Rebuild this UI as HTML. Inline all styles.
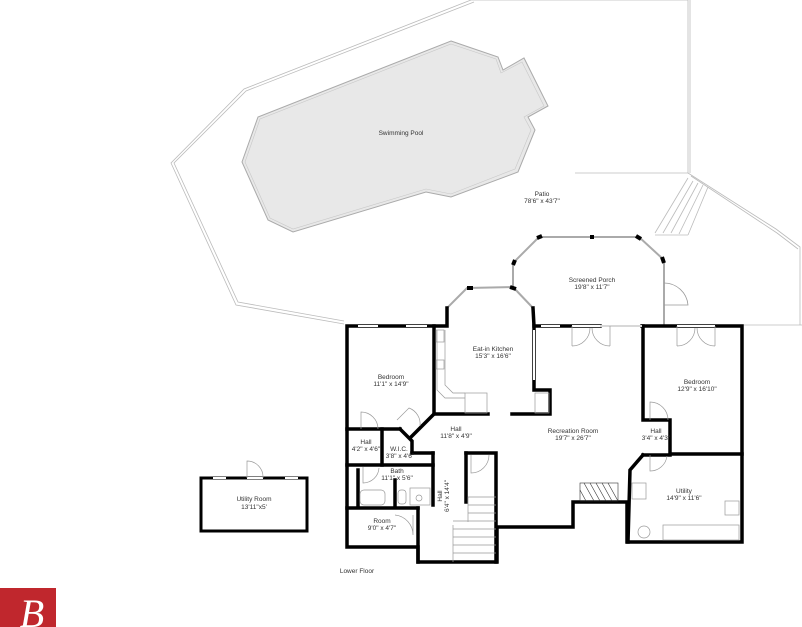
<!DOCTYPE html>
<html><head><style>
html,body{margin:0;padding:0;background:#fff;width:802px;height:627px;overflow:hidden}
svg{display:block}
text{font-family:"Liberation Sans",sans-serif;font-size:6.5px;fill:#333;text-anchor:middle}
</style></head><body>
<svg width="802" height="627" viewBox="0 0 802 627">
<g fill="none" stroke="#bbb" stroke-width="0.8">
<polyline points="471,0 244,89 171,163 236,305 344,324"/>
<polyline points="474,2 246,91 174,163 238,302 344,321"/>
<polyline points="471,0 688,0 688,173"/>
<polyline points="690,0 690,173"/>
<line x1="575" y1="173" x2="688" y2="173"/>
<polyline points="688,173 776,229 800,247 800,325"/>
<polyline points="691,176 777,233 798,249"/>
<line x1="742" y1="325" x2="802" y2="325"/>
<line x1="655" y1="233" x2="688" y2="178"/>
<line x1="688" y1="235" x2="708" y2="187"/>
<line x1="663" y1="233" x2="693" y2="181"/>
<line x1="671" y1="233" x2="698" y2="183"/>
<line x1="679" y1="234" x2="703" y2="185"/>
<line x1="655" y1="235" x2="688" y2="235"/>
</g>
<polygon points="451,41 498,57 503,70 524,58 548,106 528,117 535,130 518,172 451,197 426,192 293,232 268,220 242,162 258,117" fill="#e8e8e8" stroke="#aaa" stroke-width="1"/>
<polygon points="451,44 496,59 501,73 522,62 544,106 524,117 531,130 515,169 451,194 426,189 293,229 270,218 245,162 260,119" fill="none" stroke="#c8c8c8" stroke-width="0.6"/>
<text x="401" y="135">Swimming Pool</text>
<text x="542" y="196">Patio</text>
<text x="542" y="203">78'6" x 43'7"</text>
<g fill="none" stroke="#aaa" stroke-width="2">
<polyline points="513,287 513,263 539,237 639,237 664,260 664,325"/>
<polyline points="513,287 467,288 447,308 447,325"/>
<line x1="513" y1="287" x2="533" y2="308"/>
</g>
<g stroke="#000" stroke-width="4" fill="none">
<line x1="537" y1="238" x2="542" y2="236"/>
<line x1="636" y1="236" x2="641" y2="239"/>
<line x1="662" y1="257" x2="664" y2="263"/>
<line x1="513" y1="265" x2="515" y2="260"/>
<line x1="467" y1="288" x2="473" y2="288"/>
<line x1="510" y1="287" x2="516" y2="289"/>
<line x1="592" y1="235" x2="592" y2="239"/>
</g>
<path d="M664,283 A24,24 0 0 1 688,305 L664,305" fill="none" stroke="#999" stroke-width="0.8"/>
<text x="592" y="282">Screened Porch</text>
<text x="592" y="289">19'8" x 11'7"</text>
<g stroke="#000" stroke-width="3.5" fill="none" stroke-linecap="square">
<polyline points="447,308 447,326 347,326 347,547 418,547 418,562 497,562 497,527 573,527 573,502 627,502 627,542 742,542 742,326 642,326"/>
<polyline points="533,308 534,326 534,390 550,390 550,414 512,414"/>
<line x1="534" y1="326" x2="600" y2="326"/>
<polyline points="434,326 434,414 488,414"/>
<line x1="434" y1="414" x2="410" y2="438"/>
<polyline points="643,326 643,420 670,420 670,454 742,454"/>
<polyline points="643,455 630,470 628,542"/>
<line x1="643" y1="455" x2="670" y2="455"/>
<polyline points="466,453 466,502"/>
<polyline points="466,453 496,453 496,562"/>
<line x1="347" y1="429" x2="400" y2="429"/>
<polyline points="400,429 412,441 412,453"/>
<line x1="382" y1="429" x2="382" y2="465"/>
<line x1="412" y1="453" x2="433" y2="453"/>
<line x1="433" y1="453" x2="433" y2="505"/>
<line x1="347" y1="465" x2="433" y2="465"/>
<line x1="347" y1="508" x2="418" y2="508"/>
<line x1="418" y1="508" x2="418" y2="562"/>
<line x1="358" y1="470" x2="358" y2="506"/>
<line x1="395" y1="480" x2="395" y2="506"/>
</g>
<g stroke="#fff" stroke-width="2">
<line x1="358" y1="326" x2="378" y2="326"/><line x1="406" y1="326" x2="427" y2="326"/>
<line x1="541" y1="326" x2="560" y2="326"/><line x1="620" y1="326" x2="635" y2="326"/>
<line x1="572" y1="326" x2="610" y2="326"/><line x1="677" y1="326" x2="715" y2="326"/>
<line x1="534" y1="330" x2="534" y2="380"/><line x1="600" y1="326" x2="642" y2="326"/>
</g>
<g stroke="#999" stroke-width="0.7" fill="none">
<line x1="600" y1="326" x2="642" y2="326"/>
<path d="M572,326 v20 M610,326 v20 M572,346 A18,18 0 0 0 590,328 M610,346 A18,18 0 0 1 592,328"/>
<path d="M677,326 v20 M715,326 v20 M677,346 A18,18 0 0 0 695,328 M715,346 A18,18 0 0 1 697,328"/>
<path d="M361,429 v-17 A17,17 0 0 1 378,429"/>
<path d="M650,420 v-18 A18,18 0 0 1 668,420"/>
<path d="M650,455 v16 A17,17 0 0 0 667,456"/>
<path d="M471,455 v18 A18,18 0 0 0 489,455"/>
<path d="M397,420 l12,-12 A17,17 0 0 1 420,426"/>
<path d="M363,467 v16 A16,16 0 0 0 379,468"/>
<path d="M413,515 v20 A20,20 0 0 0 395,515"/>
<rect x="436" y="330" width="8" height="12"/><rect x="436" y="360" width="8" height="9"/>
<path d="M437,330 v60 l8,8 h20 M445,330 v55 l8,8 h12"/>
<rect x="465" y="393" width="22" height="20"/>
<rect x="535" y="393" width="14" height="20"/>
<rect x="360" y="490" width="25" height="15" rx="4"/>
<rect x="398" y="490" width="8" height="14" rx="3"/>
<rect x="410" y="488" width="20" height="17"/>
<circle cx="419" cy="498" r="3"/>
<path d="M468,497 h28 M468,505 h28 M468,513 h28 M453,521 h43 M453,529 h43 M453,537 h43 M453,545 h43 M453,553 h43 M453,525 v37 M468,497 v25"/>
<rect x="632" y="483" width="14" height="16"/>
<rect x="725" y="501" width="14" height="14"/>
<rect x="663" y="525" width="76" height="15"/>
<circle cx="644" cy="532" r="6"/>
</g>
<g stroke="#333" stroke-width="0.6">
<rect x="580" y="483" width="38" height="18" fill="none"/>
<path d="M584,483 l10,18 M590,483 l10,18 M596,483 l10,18 M602,483 l10,18 M608,483 l10,18 M580,490 l6,11"/>
</g>
<text x="493" y="351">Eat-in Kitchen</text><text x="493" y="358">15'3" x 16'6"</text>
<text x="391" y="379">Bedroom</text><text x="391" y="386">11'1" x 14'9"</text>
<text x="456" y="431">Hall</text><text x="456" y="438">11'8" x 4'9"</text>
<text x="573" y="433">Recreation Room</text><text x="573" y="440">19'7" x 26'7"</text>
<text x="697" y="384">Bedroom</text><text x="697" y="391">12'9" x 16'10"</text>
<text x="656" y="433">Hall</text><text x="656" y="440">3'4" x 4'3"</text>
<text x="684" y="493">Utility</text><text x="684" y="500">14'9" x 11'6"</text>
<text x="366" y="444">Hall</text><text x="366" y="451">4'2" x 4'6"</text>
<text x="399" y="451">W.I.C.</text><text x="400" y="458">3'8" x 4'6"</text>
<text x="397" y="473">Bath</text><text x="397" y="480">11'1" x 5'6"</text>
<text x="382" y="523">Room</text><text x="382" y="530">9'0" x 4'7"</text>
<text x="0" y="0" transform="translate(442,496) rotate(-90)">Hall</text>
<text x="0" y="0" transform="translate(449,496) rotate(-90)">6'4" x 14'4"</text>
<text x="357" y="573">Lower Floor</text>
<rect x="201" y="478" width="106" height="53" fill="none" stroke="#000" stroke-width="3"/>
<g stroke="#fff" stroke-width="2"><line x1="213" y1="478" x2="226" y2="478"/><line x1="247" y1="478" x2="263" y2="478"/><line x1="285" y1="478" x2="298" y2="478"/></g>
<path d="M247,478 v-17 A16,16 0 0 1 263,478" fill="none" stroke="#999" stroke-width="0.7"/>
<text x="254" y="501">Utility Room</text><text x="254" y="509">13'11"x5'</text>
<rect x="0" y="588" width="56" height="39" fill="#c0272d"/>
<text x="32" y="627" style="font-family:'Liberation Serif',serif;font-size:40px;fill:#fff;font-style:italic">B</text>
</svg>
</body></html>
